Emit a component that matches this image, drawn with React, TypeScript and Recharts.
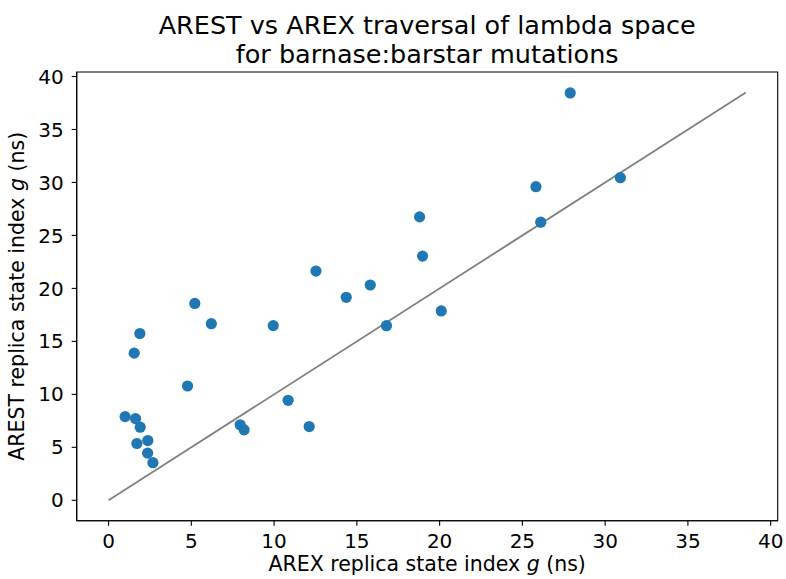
import React from 'react';
import { ScatterChart, Scatter, XAxis, YAxis, ReferenceLine, ReferenceArea } from 'recharts';

// AREX (x) and AREST (y) mean replica state index g (ns), per mutation
const arexG = [1.0, 1.63, 1.91, 1.71, 2.37, 2.36, 2.68, 1.55, 1.89, 4.77, 5.21, 6.21, 7.95, 8.19, 9.95, 10.85, 12.12, 12.53, 14.36, 15.81, 16.79, 18.79, 18.97, 20.1, 25.82, 26.11, 27.89, 30.92];
const arestG = [7.9, 7.71, 6.9, 5.36, 5.64, 4.45, 3.55, 13.89, 15.74, 10.79, 18.58, 16.67, 7.13, 6.65, 16.49, 9.44, 6.96, 21.64, 19.16, 20.32, 16.48, 26.75, 23.05, 17.87, 29.6, 26.25, 38.45, 30.45];

const xTicks = [0, 5, 10, 15, 20, 25, 30, 35, 40];
const yTicks = [0, 5, 10, 15, 20, 25, 30, 35, 40];
const diagonal = [0, 38.5];
const axisDomain = [-1.925, 40.425];

const titleLines = ['AREST vs AREX traversal of lambda space', 'for barnase:barstar mutations'];
const xLabel = 'AREX replica state index ';
const yLabel = 'AREST replica state index ';

const FONT = "'DejaVu Sans', sans-serif";
const points = arexG.map((x, i) => ({ x, y: arestG[i] }));

const Dot = (props: any) => (
  <circle cx={props.cx} cy={props.cy} r={5.6} fill="#1f77b4" />
);

const XLabelContent = (props: any) => {
  const vb = props.viewBox || {};
  const cx = vb.x + vb.width / 2;
  return (
    <g>
      <text x={cx} y={570.5} textAnchor="middle" fontSize={20.5} fontFamily={FONT} fill="#000">
        {xLabel}
        <tspan fontStyle="italic">g</tspan>
        {' (ns)'}
      </text>
      <text x={cx} y={33.5} textAnchor="middle" fontSize={25.5} fontFamily={FONT} fill="#000">
        {titleLines[0]}
      </text>
      <text x={cx} y={62.5} textAnchor="middle" fontSize={25.5} fontFamily={FONT} fill="#000">
        {titleLines[1]}
      </text>
    </g>
  );
};

const YLabelContent = (props: any) => {
  const cy = 296.3;
  const x = 24;
  return (
    <text
      x={x}
      y={cy}
      transform={`rotate(-90, ${x}, ${cy})`}
      textAnchor="middle"
      fontSize={20.5}
      fontFamily={FONT}
      fill="#000"
    >
      {yLabel}
      <tspan fontStyle="italic">g</tspan>
      {' (ns)'}
    </text>
  );
};

export default function App() {
  const tickStyle = { fontSize: 20, fill: '#000', fontFamily: FONT };
  return (
    <div style={{ position: 'absolute', left: 0, top: 0, width: 786, height: 579, background: '#fff' }}>
      <ScatterChart width={786} height={579} margin={{ top: 72, right: 8.3, bottom: 0, left: 0 }}>
        <XAxis
          type="number"
          dataKey="x"
          domain={axisDomain}
          ticks={xTicks}
          allowDataOverflow
          height={58.3}
          tickSize={5}
          tickMargin={8}
          tick={tickStyle}
          tickLine={{ stroke: '#000', strokeWidth: 1.1 }}
          axisLine={{ stroke: '#000', strokeWidth: 1.1 }}
          label={{ content: XLabelContent }}
        />
        <YAxis
          type="number"
          dataKey="y"
          domain={axisDomain}
          ticks={yTicks}
          allowDataOverflow
          width={76.7}
          tickSize={5}
          tickMargin={8}
          tick={tickStyle}
          tickLine={{ stroke: '#000', strokeWidth: 1.1 }}
          axisLine={{ stroke: '#000', strokeWidth: 1.1 }}
          label={{ content: YLabelContent }}
        />
        <ReferenceArea
          x1={axisDomain[0]}
          x2={axisDomain[1]}
          y1={axisDomain[0]}
          y2={axisDomain[1]}
          fill="none"
          stroke="#000"
          strokeWidth={1.1}
          ifOverflow="visible"
        />
        <ReferenceLine
          segment={[
            { x: diagonal[0], y: diagonal[0] },
            { x: diagonal[1], y: diagonal[1] },
          ]}
          stroke="#808080"
          strokeWidth={1.8}
          ifOverflow="visible"
        />
        <Scatter data={points} shape={Dot} isAnimationActive={false} />
      </ScatterChart>
    </div>
  );
}
